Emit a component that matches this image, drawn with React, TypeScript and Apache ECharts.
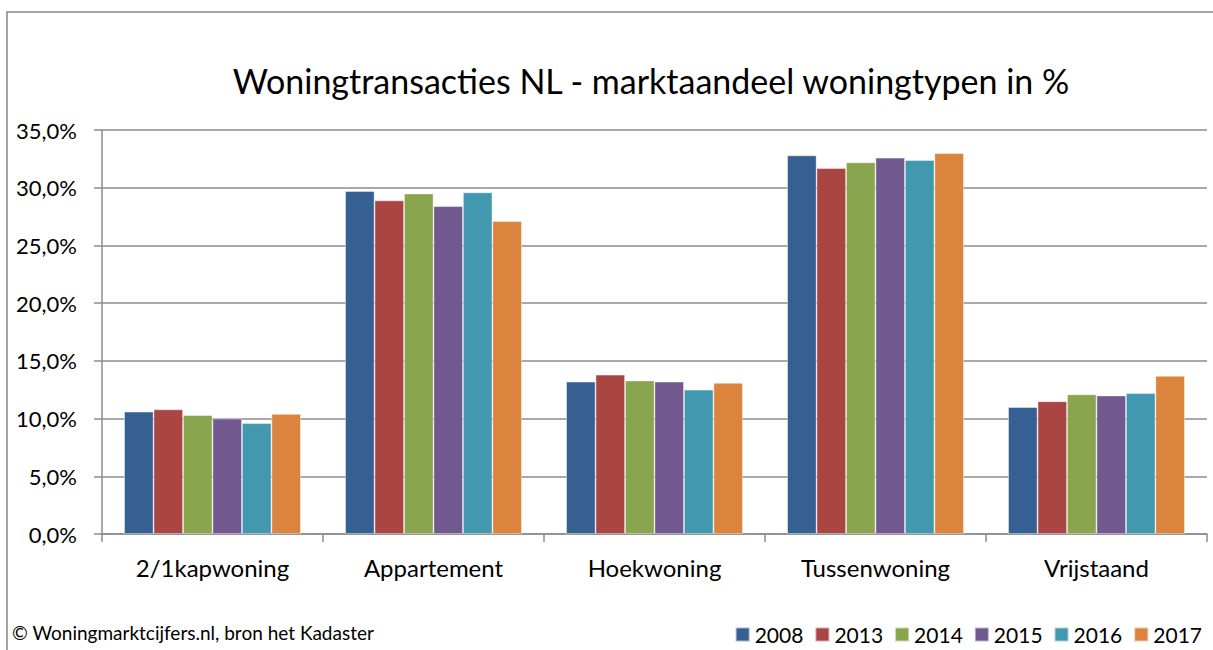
import React, { useEffect, useRef } from "react";
import * as echarts from "echarts";

const categories = ["2/1kapwoning", "Appartement", "Hoekwoning", "Tussenwoning", "Vrijstaand"];
const years = ["2008", "2013", "2014", "2015", "2016", "2017"];
const values2008 = [10.6, 29.7, 13.2, 32.8, 11.0];
const values2013 = [10.8, 28.9, 13.8, 31.7, 11.5];
const values2014 = [10.3, 29.5, 13.3, 32.2, 12.1];
const values2015 = [10.0, 28.4, 13.2, 32.6, 12.0];
const values2016 = [9.6, 29.6, 12.5, 32.4, 12.2];
const values2017 = [10.4, 27.1, 13.1, 33.0, 13.7];
const seriesValues = [values2008, values2013, values2014, values2015, values2016, values2017];
const colors = ["#376092", "#A94543", "#89A54E", "#71588F", "#4298AF", "#DB843D"];
const titleText = "Woningtransacties NL - marktaandeel woningtypen in %";
const footerText = "© Woningmarktcijfers.nl, bron het Kadaster";

const FONT = "Lato, 'Open Sans', sans-serif";

export default function App() {
  const ref = useRef<HTMLDivElement>(null);
  useEffect(() => {
    if (!ref.current) return;
    const chart = echarts.init(ref.current, undefined, { renderer: "svg" });
    chart.setOption({
      animation: false,
      backgroundColor: "#ffffff",
      color: colors,
      title: {
        text: titleText,
        left: 646,
        top: 58,
        textAlign: "center",
        textStyle: { fontFamily: FONT, fontSize: 34, fontWeight: "normal", color: "#000" },
      },
      legend: {
        data: years,
        right: 6,
        top: 619,
        itemWidth: 14,
        itemHeight: 14,
        itemGap: 11,
        icon: "rect",
        textStyle: { fontFamily: FONT, fontSize: 21, color: "#000" },
      },
      grid: { left: 102, right: 6, top: 130, bottom: 116, containLabel: false },
      xAxis: {
        type: "category",
        data: categories,
        axisLine: { show: true, lineStyle: { color: "#8c8c8c", width: 1.5 } },
        axisTick: { show: true, length: 8, lineStyle: { color: "#8c8c8c", width: 1.5 } },
        axisLabel: { margin: 21, fontFamily: FONT, fontSize: 24, color: "#000" },
      },
      yAxis: {
        type: "value",
        min: 0,
        max: 35,
        interval: 5,
        axisLine: { show: true, lineStyle: { color: "#8c8c8c", width: 1.5 } },
        axisTick: { show: true, length: 8, lineStyle: { color: "#8c8c8c", width: 1.5 } },
        splitLine: { show: true, lineStyle: { color: "#8c8c8c", width: 1.5 } },
        axisLabel: {
          margin: 25,
          fontFamily: FONT,
          fontSize: 22,
          color: "#000",
          formatter: (v: number) => v.toFixed(1).replace(".", ",") + "%",
        },
      },
      series: years.map((y, i) => ({
        name: y,
        type: "bar",
        data: seriesValues[i],
        barGap: "0%",
        barCategoryGap: "20%",
        itemStyle: { color: colors[i], borderColor: "rgba(255,255,255,0.55)", borderWidth: 0.8 },
      })),
      graphic: [
        {
          type: "polyline",
          shape: { points: [[7, 660], [7, 12], [1220, 12]] },
          style: { stroke: "#878787", lineWidth: 1.5, fill: "none" },
          silent: true,
        },
        {
          type: "text",
          left: 12,
          top: 623,
          style: { text: footerText, fontFamily: FONT, fontSize: 19, fill: "#000" },
        },
      ],
    });
    return () => chart.dispose();
  }, []);
  return <div ref={ref} style={{ width: 1213, height: 650, position: "absolute", left: 0, top: 0 }} />;
}
